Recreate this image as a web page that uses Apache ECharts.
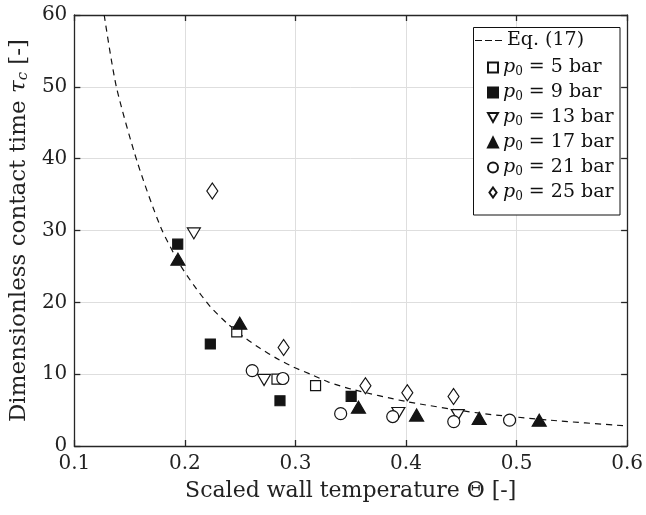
<!DOCTYPE html>
<html>
<head>
<meta charset="utf-8">
<script src="https://cdn.jsdelivr.net/npm/echarts@6/dist/echarts.min.js"></script>
<style>
  html, body { margin: 0; padding: 0; background: #fff; }
  #chart { width: 646px; height: 515px; }
</style>
</head>
<body>
<div id="chart"></div>
<script>
// Eq. (17) curve
var eqTheta = [0.127, 0.138, 0.157, 0.178, 0.195, 0.208, 0.223, 0.238, 0.253, 0.268, 0.283, 0.298, 0.315, 0.33, 0.351, 0.4, 0.465, 0.53, 0.6]
var eqTau   = [60, 50, 39.5, 30.5, 25.4, 22.4, 19.4, 17.1, 15.2, 13.6, 12.2, 11.0, 9.9, 8.9, 7.9, 6.2, 4.6, 3.6, 2.79]

// measurements per pressure
var p5Theta  = [0.2469, 0.2833, 0.3182]
var p5Tau    = [15.9, 9.3, 8.4]
var p9Theta  = [0.1935, 0.2230, 0.2860, 0.3504]
var p9Tau    = [28.1, 14.2, 6.3, 6.9]
var p13Theta = [0.2081, 0.2716, 0.3931, 0.4468]
var p13Tau   = [29.6, 9.2, 4.6, 4.3]
var p17Theta = [0.1937, 0.2496, 0.3570, 0.4096, 0.4662, 0.5205]
var p17Tau   = [26.0, 17.1, 5.4, 4.3, 3.85, 3.6]
var p21Theta = [0.2609, 0.2886, 0.3409, 0.3880, 0.4432, 0.4937]
var p21Tau   = [10.5, 9.4, 4.5, 4.1, 3.4, 3.6]
var p25Theta = [0.2248, 0.2893, 0.3633, 0.4012, 0.4430]
var p25Tau   = [35.5, 13.7, 8.4, 7.4, 6.9]

function pairs(xs, ys){
    return xs.map(function(x, i){ return [x, ys[i]] })
}

var font = "'DejaVu Serif', 'Liberation Serif', serif"
var ink = '#262626'
var txt = '#222'

function scatter(name, data, symbol, filled, size, rotate){
    return {
        type: 'scatter',
        name: name,
        data: data,
        symbol: symbol,
        symbolSize: size,
        symbolRotate: rotate || 0,
        itemStyle: {
            color: filled ? '#141414' : '#fff',
            borderColor: '#141414',
            borderWidth: 1.2,
            opacity: 1
        },
        z: 5
    }
}

var legendRich = {
    t: { fontFamily: font, fontSize: 19, lineHeight: 21, color: '#111' },
    i: { fontFamily: font, fontSize: 19, lineHeight: 21, fontStyle: 'italic', color: '#111' },
    s: { fontFamily: font, fontSize: 12, lineHeight: 8, verticalAlign: 'bottom', color: '#111' }
}

var axisBase = {
    axisLine: { onZero: false, lineStyle: { color: ink, width: 1.3 } },
    axisTick: { inside: true, length: 6, lineStyle: { color: ink, width: 1.3 } }
}

var chart = echarts.init(document.getElementById('chart'))

var option = {
    animation: false,
    backgroundColor: '#fff',
    textStyle: { fontFamily: font },
    grid: { left: 73, right: 14, top: 15, bottom: 69 },
    graphic: [{
        type: 'rect',
        shape: { x: 473.5, y: 27.5, width: 146.5, height: 187.5 },
        style: { fill: '#fff', stroke: '#111', lineWidth: 1 },
        z: 10
    }],
    legend: [{
        orient: 'vertical',
        left: 475,
        top: 31,
        padding: 0,
        itemWidth: 27,
        itemHeight: 10,
        z: 12,
        data: [{ name: 'Eq. (17)', icon: 'path://M0 0h7v1.2H0zM10 0h7v1.2h-7zM20 0h7v1.2h-7z' }],
        formatter: function(){ return '{t|Eq. (17)}' },
        textStyle: { rich: legendRich }
    }, {
        orient: 'vertical',
        left: 487,
        top: 58,
        padding: 0,
        itemWidth: 10,
        itemHeight: 10,
        itemGap: 5,
        z: 12,
        data: [
            'p5', 'p9',
            { name: 'p13', icon: 'path://M0 0L10 0L5 9Z' },
            'p17', 'p21',
            { name: 'p25', icon: 'path://M5 0L10 7L5 14L0 7Z' }
        ],
        formatter: function(name){
            return '{i|p}{s|0}{t| = ' + name.slice(1) + ' bar}'
        },
        textStyle: { rich: legendRich }
    }],
    xAxis: [Object.assign({
        type: 'value',
        min: 0.1, max: 0.6, interval: 0.1,
        name: 'Scaled wall temperature Θ [-]',
        nameLocation: 'middle',
        nameGap: 34,
        nameTextStyle: { fontFamily: font, fontSize: 22, color: txt },
        axisLabel: { fontFamily: font, fontSize: 20, color: txt, margin: 8,
            formatter: function(v){ return v.toFixed(1) } },
        splitLine: { show: true, lineStyle: { color: '#dedede', width: 1 } }
    }, axisBase), Object.assign({
        type: 'value', position: 'top',
        min: 0.1, max: 0.6, interval: 0.1,
        axisLabel: { show: false },
        splitLine: { show: false }
    }, axisBase)],
    yAxis: [Object.assign({
        type: 'value',
        min: 0, max: 60, interval: 10,
        name: 'Dimensionless contact time {i|τ}{s|c} [-]',
        nameLocation: 'middle',
        nameGap: 41,
        nameTextStyle: {
            fontFamily: font, fontSize: 23, color: txt,
            rich: {
                i: { fontFamily: font, fontSize: 23, fontStyle: 'italic', color: txt },
                s: { fontFamily: font, fontSize: 15, fontStyle: 'italic', verticalAlign: 'bottom', lineHeight: 8, color: txt }
            }
        },
        axisLabel: { fontFamily: font, fontSize: 20, color: txt, margin: 7 },
        splitLine: { show: true, lineStyle: { color: '#dedede', width: 1 } }
    }, axisBase), Object.assign({
        type: 'value', position: 'right',
        min: 0, max: 60, interval: 10,
        axisLabel: { show: false },
        splitLine: { show: false }
    }, axisBase)],
    series: [
        {
            type: 'line',
            name: 'Eq. (17)',
            data: pairs(eqTheta, eqTau),
            smooth: 0.25,
            symbol: 'none',
            lineStyle: { color: '#111', width: 1.2, type: [6, 5] },
            itemStyle: { color: '#111' },
            z: 3
        },
        scatter('p5',  pairs(p5Theta, p5Tau),   'rect',     false, 10),
        scatter('p9',  pairs(p9Theta, p9Tau),   'rect',     true,  10),
        scatter('p13', pairs(p13Theta, p13Tau), 'triangle', false, [13, 11], 180),
        scatter('p17', pairs(p17Theta, p17Tau), 'triangle', true,  [14, 12]),
        scatter('p21', pairs(p21Theta, p21Tau), 'circle',   false, 12),
        scatter('p25', pairs(p25Theta, p25Tau), 'diamond',  false, [11, 16])
    ]
}

chart.setOption(option)
</script>
</body>
</html>
